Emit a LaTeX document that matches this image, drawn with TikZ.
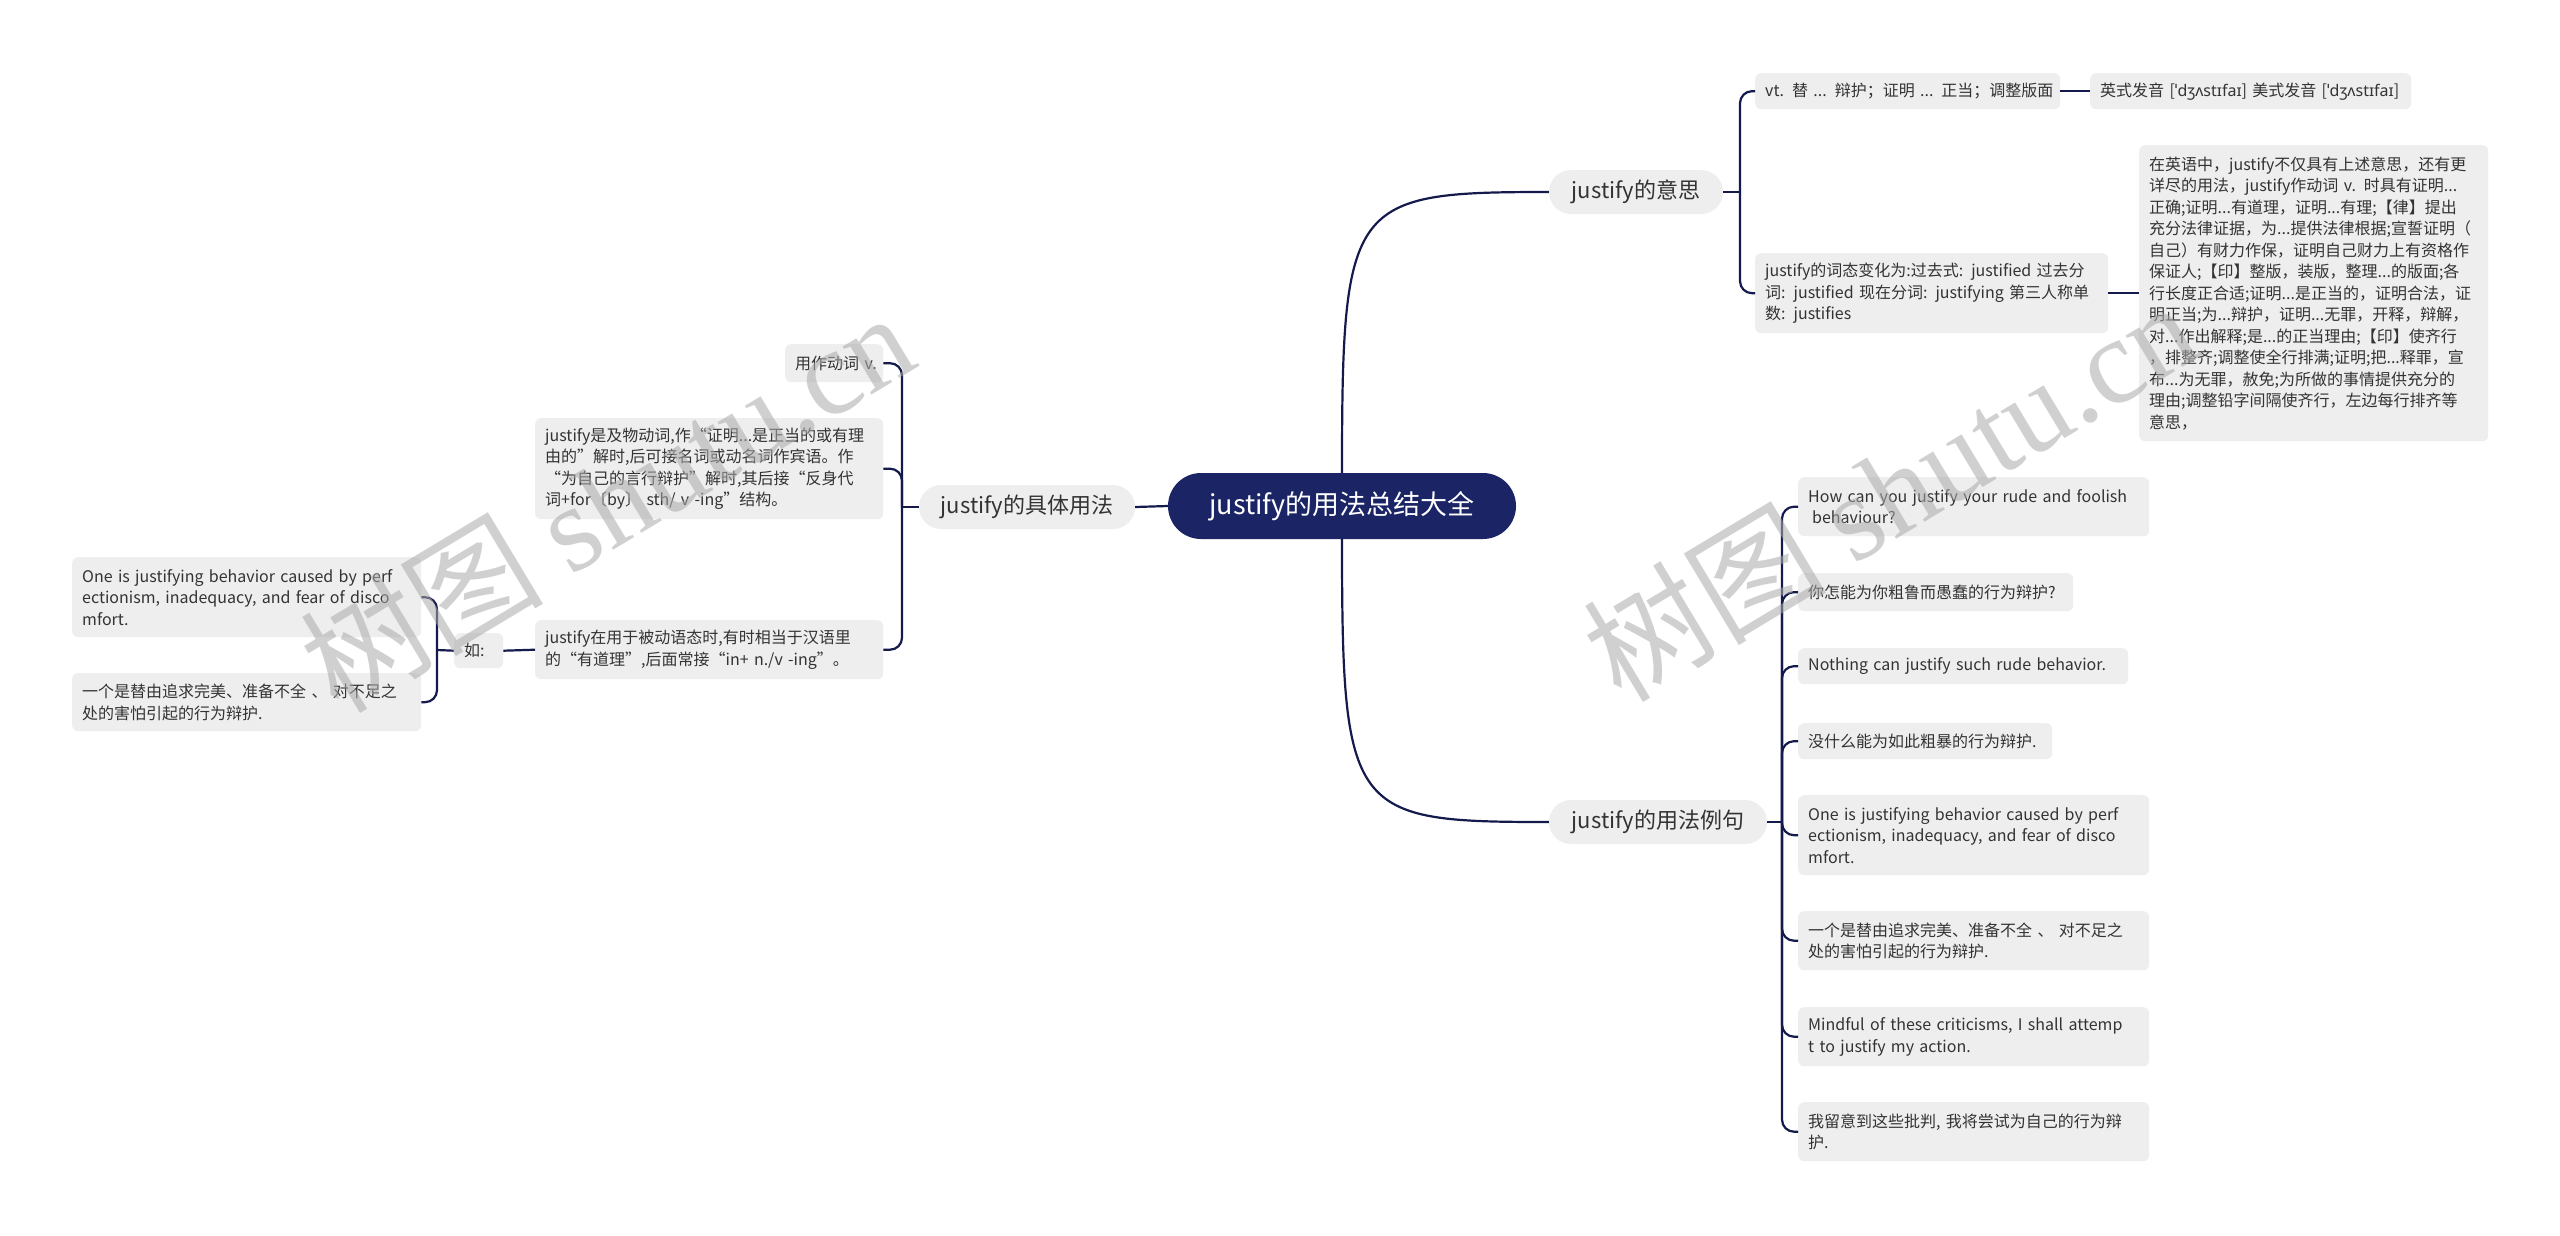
\documentclass[tikz,border=0pt]{standalone}
\usepackage{fontspec}
\setmainfont{Noto Sans CJK SC}
\newfontfamily\ipafont{Noto Sans}
\newfontfamily\wmserif{Liberation Serif}
\definecolor{navy}{RGB}{27,37,102}
\definecolor{linec}{RGB}{20,26,75}
\definecolor{boxc}{RGB}{238,238,238}
\definecolor{txt}{RGB}{51,51,51}
\definecolor{wmc}{RGB}{170,170,170}
\begin{document}
\begin{tikzpicture}[x=1pt,y=-1pt,
  rootnode/.style={fill=navy, text=white, rounded corners=33pt, minimum width=348pt, minimum height=66pt, font=\fontsize{27}{30}\selectfont, inner sep=0pt},
  lvone/.style={fill=boxc, text=txt, rounded corners=22pt, minimum height=44pt, font=\fontsize{22}{26}\selectfont, inner sep=0pt},
  leaf/.style={fill=boxc, text=txt, rounded corners=6pt, minimum height=36pt, font=\fontsize{16}{21.5}\selectfont, inner xsep=10pt, inner ysep=6pt, align=left, anchor=north west},
  conn/.style={draw=linec, line width=2.2pt},
  br/.style={conn, rounded corners=12pt},
  wmstyle/.style={text=wmc, opacity=0.55, font=\fontsize{122}{124}\selectfont, inner sep=0pt, rotate=31, anchor=base west},
]
\useasboundingbox (0,0) rectangle (2560,1235);
\fill[white] (0,0) rectangle (2560,1235);

\node[rootnode] (root) at (1342,506) {justify的用法总结大全};
\node[lvone, minimum width=174pt] (yisi) at (1636,192) {justify的意思};
\node[lvone, minimum width=216pt] (juti) at (1027,507) {justify的具体用法};
\node[lvone, minimum width=218pt] (liju) at (1658,822) {justify的用法例句};

% meaning branch
\node[leaf, text width=285pt] (vt) at (1755,73) {\mbox{vt. 替 ... 辩护；证明 ... 正当；调整版面}};
\node[leaf, text width=301pt] (pron) at (2090,73) {\mbox{英式发音 [{\ipafont ˈdʒʌstɪfaɪ}] 美式发音 [{\ipafont ˈdʒʌstɪfaɪ}]}};
\node[leaf, text width=333pt, minimum height=80pt] (citai) at (1755,253) {justify的词态变化为:过去式: justified 过去分\\词: justified 现在分词: justifying 第三人称单\\数: justifies};
\node[leaf, text width=329pt, minimum height=296pt] (big) at (2139,145) {在英语中，justify不仅具有上述意思，还有更\\详尽的用法，justify作动词 v. 时具有证明...\\正确;证明...有道理，证明...有理;【律】提出\\充分法律证据，为...提供法律根据;宣誓证明（\\自己）有财力作保，证明自己财力上有资格作\\保证人;【印】整版，装版，整理...的版面;各\\行长度正合适;证明...是正当的，证明合法，证\\明正当;为...辩护，证明...无罪，开释，辩解，\\对...作出解释;是...的正当理由;【印】使齐行\\，排整齐;调整使全行排满;证明;把...释罪，宣\\布...为无罪，赦免;为所做的事情提供充分的\\理由;调整铅字间隔使齐行，左边每行排齐等\\意思，};

% usage branch
\node[leaf, text width=78pt, minimum height=38pt] (verb) at (785,344) {\mbox{用作动词 v.}};
\node[leaf, text width=328pt, minimum height=101pt] (trans) at (535,418) {justify是及物动词,作“证明...是正当的或有理\\由的”解时,后可接名词或动名词作宾语。作\\“为自己的言行辩护”解时,其后接“反身代\\词+for〔by〕 sth/ v -ing”结构。};
\node[leaf, text width=328pt, minimum height=59pt] (passive) at (535,620) {justify在用于被动语态时,有时相当于汉语里\\的“有道理”,后面常接“in+ n./v -ing”。};
\node[leaf, text width=29pt, minimum height=35pt] (ru) at (454,633) {\mbox{如:}};
\node[leaf, text width=329pt, minimum height=80pt] (lone) at (72,557) {One is justifying behavior caused by perf\\ectionism, inadequacy, and fear of disco\\mfort.};
\node[leaf, text width=329pt, minimum height=58pt] (lyige) at (72,673) {一个是替由追求完美、准备不全 、 对不足之\\处的害怕引起的行为辩护.};

% example branch
\node[leaf, text width=331pt, minimum height=59pt] (how) at (1798,477) {How can you justify your rude and foolish\\\hspace*{4pt}behaviour?};
\node[leaf, text width=255pt, minimum height=38pt] (nizen) at (1798,573) {\mbox{你怎能为你粗鲁而愚蠢的行为辩护?}};
\node[leaf, text width=310pt] (nothing) at (1798,648) {\mbox{Nothing can justify such rude behavior.}};
\node[leaf, text width=234pt] (meishen) at (1798,723) {\mbox{没什么能为如此粗暴的行为辩护.}};
\node[leaf, text width=331pt, minimum height=80pt] (rone) at (1798,795) {One is justifying behavior caused by perf\\ectionism, inadequacy, and fear of disco\\mfort.};
\node[leaf, text width=331pt, minimum height=59pt] (ryige) at (1798,911) {一个是替由追求完美、准备不全 、 对不足之\\处的害怕引起的行为辩护.};
\node[leaf, text width=331pt, minimum height=59pt] (mindful) at (1798,1007) {Mindful of these criticisms, I shall attemp\\t to justify my action.};
\node[leaf, text width=331pt, minimum height=59pt] (woliu) at (1798,1102) {我留意到这些批判, 我将尝试为自己的行为辩\\护.};

% forks
\coordinate (f1) at (1740,192);
\coordinate (f2) at (902,507);
\coordinate (f3) at (437,650);
\coordinate (f4) at (1782,822);

% main curves
\draw[conn] (root.north) .. controls (1342,200) and (1350,192) .. (yisi.west);
\draw[conn] (root.south) .. controls (1342,815) and (1350,822) .. (liju.west);
\draw[conn] (root.west) -- (juti.east);

\draw[conn] (yisi.east) -- (f1);
\draw[br] (f1) |- (vt.west);
\draw[br] (f1) |- (citai.west);
\draw[conn] (vt.east) -- (pron.west);
\draw[conn] (citai.east) -- (big.west);

\draw[conn] (juti.west) -- (f2);
\draw[br] (f2) |- (verb.east);
\draw[br] (f2) |- (trans.east);
\draw[br] (f2) |- (passive.east);
\draw[conn] (passive.west) -- (ru.east);
\draw[conn] (ru.west) -- (f3);
\draw[br] (f3) |- (lone.east);
\draw[br] (f3) |- (lyige.east);

\draw[conn] (liju.east) -- (f4);
\foreach \c in {how,nizen,nothing,meishen,rone,ryige,mindful,woliu}{
  \draw[br] (f4) |- (\c.west);
}

% watermarks
\node[wmstyle] (wm1) at (338,716) {树图 {\wmserif shutu.cn}};
\node[wmstyle] (wm2) at (1621,705) {树图 {\wmserif shutu.cn}};
\end{tikzpicture}
\end{document}
